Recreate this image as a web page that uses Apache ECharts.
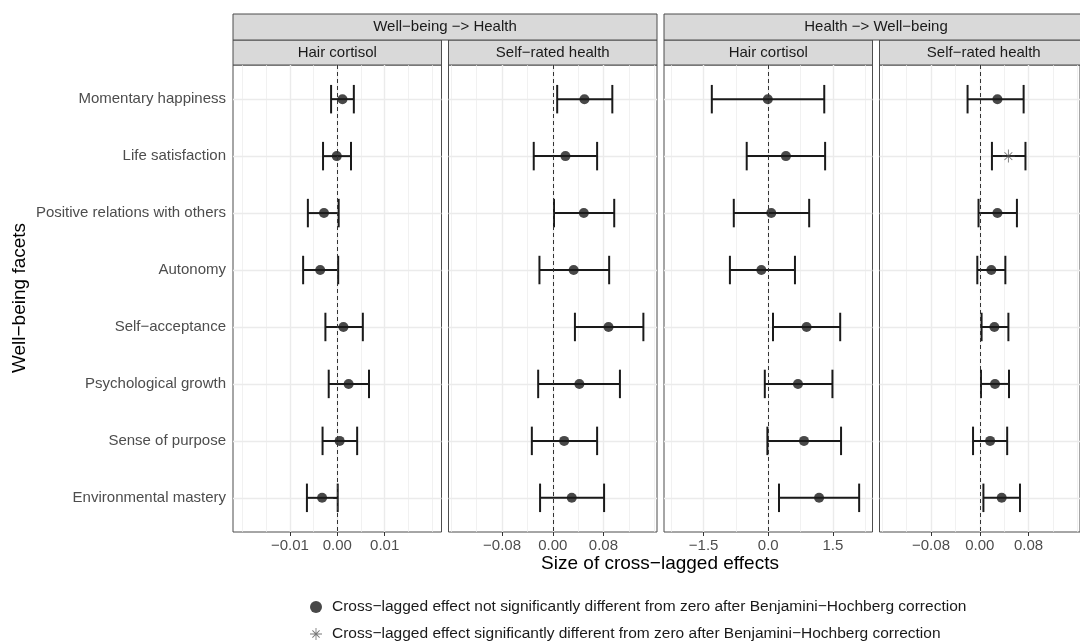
<!DOCTYPE html>
<html><head><meta charset="utf-8">
<script src="https://cdn.jsdelivr.net/npm/echarts@6/dist/echarts.min.js"></script>
<style>html,body{margin:0;padding:0;background:#fff}#c{width:1080px;height:644px}</style>
</head><body><div id="c"></div>
<script>
// ---------- data ----------
const facets = ['Momentary happiness','Life satisfaction','Positive relations with others','Autonomy','Self\u2212acceptance','Psychological growth','Sense of purpose','Environmental mastery'];
const directions = ['Well\u2212being \u2212> Health','Health \u2212> Well\u2212being'];
const outcomes = ['Hair cortisol','Self\u2212rated health'];

// Well-being -> Health, Hair cortisol
const wbhHcEst  = [0.0011,-0.0001,-0.0028,-0.0036,0.0013,0.0024,0.0005,-0.0032];
const wbhHcLow  = [-0.0013,-0.0030,-0.0062,-0.0072,-0.0025,-0.0018,-0.0031,-0.0064];
const wbhHcHigh = [0.0035,0.0029,0.0003,0.0002,0.0054,0.0067,0.0042,0.0001];
const wbhHcSig  = [0,0,0,0,0,0,0,0];
// Well-being -> Health, Self-rated health
const wbhSrEst  = [0.050,0.020,0.049,0.033,0.088,0.042,0.018,0.030];
const wbhSrLow  = [0.007,-0.030,0.002,-0.021,0.035,-0.023,-0.033,-0.020];
const wbhSrHigh = [0.094,0.070,0.097,0.089,0.143,0.106,0.070,0.081];
const wbhSrSig  = [0,0,0,0,0,0,0,0];
// Health -> Well-being, Hair cortisol
const hwbHcEst  = [-0.01,0.41,0.07,-0.16,0.89,0.69,0.83,1.18];
const hwbHcLow  = [-1.31,-0.50,-0.80,-0.89,0.11,-0.08,-0.02,0.25];
const hwbHcHigh = [1.30,1.32,0.95,0.62,1.67,1.49,1.69,2.11];
const hwbHcSig  = [0,0,0,0,0,0,0,0];
// Health -> Well-being, Self-rated health
const hwbSrEst  = [0.029,0.047,0.029,0.019,0.024,0.025,0.017,0.036];
const hwbSrLow  = [-0.020,0.020,-0.002,-0.004,0.003,0.002,-0.011,0.006];
const hwbSrHigh = [0.072,0.075,0.061,0.042,0.047,0.048,0.045,0.066];
const hwbSrSig  = [0,1,0,0,0,0,0,0];

// axis ticks
const ticksHcWbh = [-0.01,0,0.01];
const minorHcWbh = [-0.02,-0.015,-0.005,0.005,0.015,0.02];
const ticksSr = [-0.08,0,0.08];
const minorSr = [-0.16,-0.12,-0.04,0.04,0.12,0.16];
const ticksHcHwb = [-1.5,0,1.5];
const minorHcHwb = [-2.25,-0.75,0.75,2.25];
const rowTicks = [1,2,3,4,5,6,7,8];

const legendNS = 'Cross\u2212lagged effect not significantly different from zero after Benjamini\u2212Hochberg correction';
const legendS  = 'Cross\u2212lagged effect significantly different from zero after Benjamini\u2212Hochberg correction';

// ---------- layout ----------
const panels = [
  {est:wbhHcEst, low:wbhHcLow, high:wbhHcHigh, sig:wbhHcSig, lim:0.022, ticks:ticksHcWbh, minor:minorHcWbh, dec:2, left:233, title:outcomes[0]},
  {est:wbhSrEst, low:wbhSrLow, high:wbhSrHigh, sig:wbhSrSig, lim:0.1645, ticks:ticksSr, minor:minorSr, dec:2, left:448.5, title:outcomes[1]},
  {est:hwbHcEst, low:hwbHcLow, high:hwbHcHigh, sig:hwbHcSig, lim:2.42, ticks:ticksHcHwb, minor:minorHcHwb, dec:1, left:664, title:outcomes[0]},
  {est:hwbSrEst, low:hwbSrLow, high:hwbSrHigh, sig:hwbSrSig, lim:0.1645, ticks:ticksSr, minor:minorSr, dec:2, left:879.5, title:outcomes[1]}
];
const PW = 208.5, PT = 65, PH = 467;
const FONT = '"Liberation Sans", Arial, Helvetica, sans-serif';
const fmt = (d) => (v) => (v < 0 ? '\u2212' : '') + Math.abs(v).toFixed(d);
const starPath = 'path://M-0.07,-1L0.07,-1L0.07,1L-0.07,1ZM-1,-0.07L1,-0.07L1,0.07L-1,0.07ZM-0.6505,-0.5515L-0.5515,-0.6505L0.6505,0.5515L0.5515,0.6505ZM-0.5515,0.6505L-0.6505,0.5515L0.5515,-0.6505L0.6505,-0.5515Z';

function errRender(params, api) {
  const y = api.value(2);
  const p1 = api.coord([api.value(0), y]);
  const p2 = api.coord([api.value(1), y]);
  const h = api.size([0, 0.5])[1] / 2;
  const style = {stroke: '#1a1a1a', lineWidth: 2};
  return {type: 'group', children: [
    {type: 'line', shape: {x1: p1[0], y1: p1[1], x2: p2[0], y2: p2[1]}, style: style},
    {type: 'line', shape: {x1: p1[0], y1: p1[1] - h, x2: p1[0], y2: p1[1] + h}, style: style},
    {type: 'line', shape: {x1: p2[0], y1: p2[1] - h, x2: p2[0], y2: p2[1] + h}, style: style}
  ]};
}

const grid = [], xAxis = [], yAxis = [], series = [], graphic = [];
panels.forEach((p, i) => {
  grid.push({left: p.left, top: PT, width: PW, height: PH, show: true, borderColor: '#4d4d4d', borderWidth: 1, backgroundColor: '#fff'});
  xAxis.push({
    type: 'value', gridIndex: i, min: -p.lim, max: p.lim, position: 'bottom',
    axisLine: {show: false},
    axisTick: {show: true, customValues: p.ticks, length: 4, lineStyle: {color: '#333', width: 1}},
    axisLabel: {customValues: p.ticks, formatter: fmt(p.dec), color: '#4d4d4d', fontSize: 15, margin: 6, fontFamily: FONT},
    splitLine: {show: true, lineStyle: {color: '#ebebeb', width: 1.4}}
  });
  yAxis.push({
    type: 'value', gridIndex: i, min: 0.4, max: 8.6, inverse: true,
    axisLine: {show: false},
    axisTick: {show: i === 0, customValues: rowTicks, length: 4, lineStyle: {color: '#333', width: 1}},
    axisLabel: {show: i === 0, customValues: rowTicks, formatter: (v) => facets[Math.round(v) - 1], color: '#4d4d4d', fontSize: 15, margin: 7, fontFamily: FONT},
    splitLine: {show: true, lineStyle: {color: '#ebebeb', width: 1.4}}
  });
});
panels.forEach((p, i) => {
  xAxis.push({
    type: 'value', gridIndex: i, min: -p.lim, max: p.lim, position: 'top',
    axisLine: {show: false}, axisLabel: {show: false},
    axisTick: {show: false, customValues: p.minor},
    splitLine: {show: true, lineStyle: {color: '#ebebeb', width: 0.7}}
  });
});
panels.forEach((p, i) => {
  series.push({
    type: 'custom', xAxisIndex: i, yAxisIndex: i, renderItem: errRender, z: 3,
    encode: {x: [0, 1], y: 2},
    data: p.low.map((l, k) => [l, p.high[k], k + 1]),
    markLine: {silent: true, symbol: 'none', label: {show: false}, animation: false,
      lineStyle: {color: '#333', type: [4, 3], width: 1}, data: [{xAxis: 0}]}
  });
  series.push({
    type: 'scatter', name: legendNS, xAxisIndex: i, yAxisIndex: i, z: 4,
    symbol: 'circle', symbolSize: 10, itemStyle: {color: '#1a1a1a'},
    data: p.est.map((e, k) => [e, k + 1]).filter((d, k) => !p.sig[k])
  });
  series.push({
    type: 'scatter', name: legendS, xAxisIndex: i, yAxisIndex: i, z: 4,
    symbol: starPath, symbolSize: 13, itemStyle: {color: '#555'},
    data: p.est.map((e, k) => [e, k + 1]).filter((d, k) => p.sig[k])
  });
  // panel strip
  graphic.push({type: 'rect', shape: {x: p.left, y: 40, width: PW, height: 25}, style: {fill: '#d9d9d9', stroke: '#4d4d4d', lineWidth: 1}});
  graphic.push({type: 'text', x: p.left + PW / 2, y: 52.5, style: {text: p.title, fontSize: 15, fontFamily: FONT, fill: '#1a1a1a', align: 'center', verticalAlign: 'middle'}});
});
// direction strips
[[233, directions[0]], [664, directions[1]]].forEach(([x, t]) => {
  const w = 448.5 + PW - 233;
  graphic.push({type: 'rect', shape: {x: x, y: 14, width: w, height: 26}, style: {fill: '#d9d9d9', stroke: '#4d4d4d', lineWidth: 1}});
  graphic.push({type: 'text', x: x + w / 2, y: 27, style: {text: t, fontSize: 15, fontFamily: FONT, fill: '#1a1a1a', align: 'center', verticalAlign: 'middle'}});
});
graphic.push({type: 'text', x: 660, y: 564, style: {text: 'Size of cross\u2212lagged effects', fontSize: 19, fontFamily: FONT, fill: '#000', align: 'center', verticalAlign: 'middle'}});
graphic.push({type: 'text', x: 20, y: 298, rotation: Math.PI / 2, style: {text: 'Well\u2212being facets', fontSize: 19, fontFamily: FONT, fill: '#000', align: 'center', verticalAlign: 'middle'}});

const chart = echarts.init(document.getElementById('c'), null, {renderer: 'canvas'});
chart.setOption({
  animation: false,
  backgroundColor: '#fff',
  textStyle: {fontFamily: FONT},
  grid: grid, xAxis: xAxis, yAxis: yAxis, series: series, graphic: graphic,
  legend: {
    orient: 'vertical', left: 310, top: 599, height: 80, itemWidth: 22, itemHeight: 12, itemGap: 11,
    padding: 0, selectedMode: false, data: [legendNS, legendS],
    textStyle: {fontSize: 15.5, color: '#1a1a1a', fontFamily: FONT}
  }
});
</script>
</body></html>
